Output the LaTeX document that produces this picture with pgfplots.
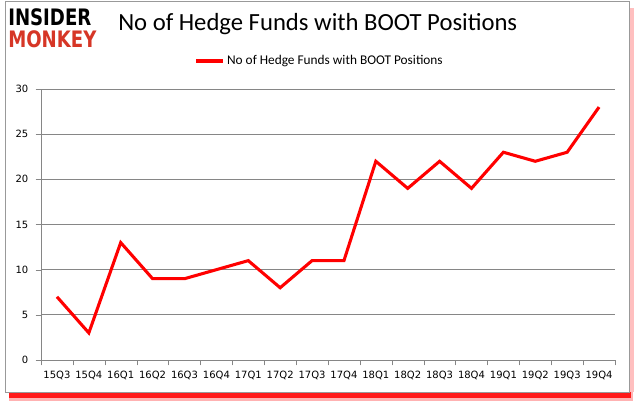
\documentclass[border=0pt]{standalone}
\usepackage{fontspec}
\setmainfont{Carlito}
\newfontfamily\tickfont{DejaVu Sans}
\newfontfamily\logofont{DejaVu Sans}
\usepackage{pgfplots}
\pgfplotsset{compat=1.18}
\definecolor{gridgray}{RGB}{134,134,134}
\definecolor{logored}{RGB}{214,54,38}

\begin{document}
\begin{tikzpicture}[x=0.75pt,y=0.75pt]
% page size 636x405 px
\path[use as bounding box] (0,0) rectangle (636,405);
% frame with red shadow
\fill[red!25] (629,13) rectangle (634,397);
\fill[red!30] (9,4) rectangle (633,13);
\fill[red!90!white] (9,7) rectangle (631,13);
\fill[white,draw=gray!80] (5,13) rectangle (629,404);

% logo
\node[anchor=west,inner sep=0,font=\logofont\bfseries\fontsize{17}{17}\selectfont] at (8,388) {\scalebox{0.8}[1]{INSIDER}};
\node[anchor=west,inner sep=0,text=logored,font=\logofont\bfseries\fontsize{17}{17}\selectfont] at (8,366) {\scalebox{0.8}[1]{MONKEY}};

% title
\node[anchor=west,inner sep=0,font=\fontsize{18.5}{20}\selectfont] at (118,381) {No of Hedge Funds with BOOT Positions};

\begin{axis}[
  at={(30.75pt,33.75pt)}, anchor=south west,
  scale only axis,
  width=430.5pt, height=203.25pt,
  xmin=-0.5, xmax=17.5,
  ymin=0, ymax=30,
  axis x line=bottom, axis y line=left,
  axis line style={-, gridgray},
  xtick={0,...,17},
  xticklabels={15Q3,15Q4,16Q1,16Q2,16Q3,16Q4,17Q1,17Q2,17Q3,17Q4,18Q1,18Q2,18Q3,18Q4,19Q1,19Q2,19Q3,19Q4},
  major x tick style={draw=none},
  minor xtick={-0.5,0.5,...,17.5},
  minor tick length=4pt,
  ytick={0,5,...,30},
  major tick length=4pt,
  tick align=outside,
  tick style={gridgray},
  ymajorgrids,
  grid style={gridgray, line width=0.6pt},
  /pgf/number format/assume math mode=true,
  tick label style={font=\tickfont\fontsize{7.5}{8}\selectfont, text=black},
  xticklabel style={yshift=-1pt},
  yticklabel style={xshift=-2pt},
  legend style={at={(0.486,1.103)}, anchor=center, draw=none, fill=none,
    font=\fontsize{10}{11}\selectfont, legend columns=1},
  legend image code/.code={\draw[#1, line width=2.5pt] (0cm,0cm) -- (0.7cm,0cm);},
]
\addplot[red, line width=2.3pt, mark=none] coordinates {
  (0,7) (1,3) (2,13) (3,9) (4,9) (5,10) (6,11) (7,8) (8,11) (9,11)
  (10,22) (11,19) (12,22) (13,19) (14,23) (15,22) (16,23) (17,28)
};
\addlegendentry{No of Hedge Funds with BOOT Positions}
\end{axis}
\end{tikzpicture}
\end{document}
